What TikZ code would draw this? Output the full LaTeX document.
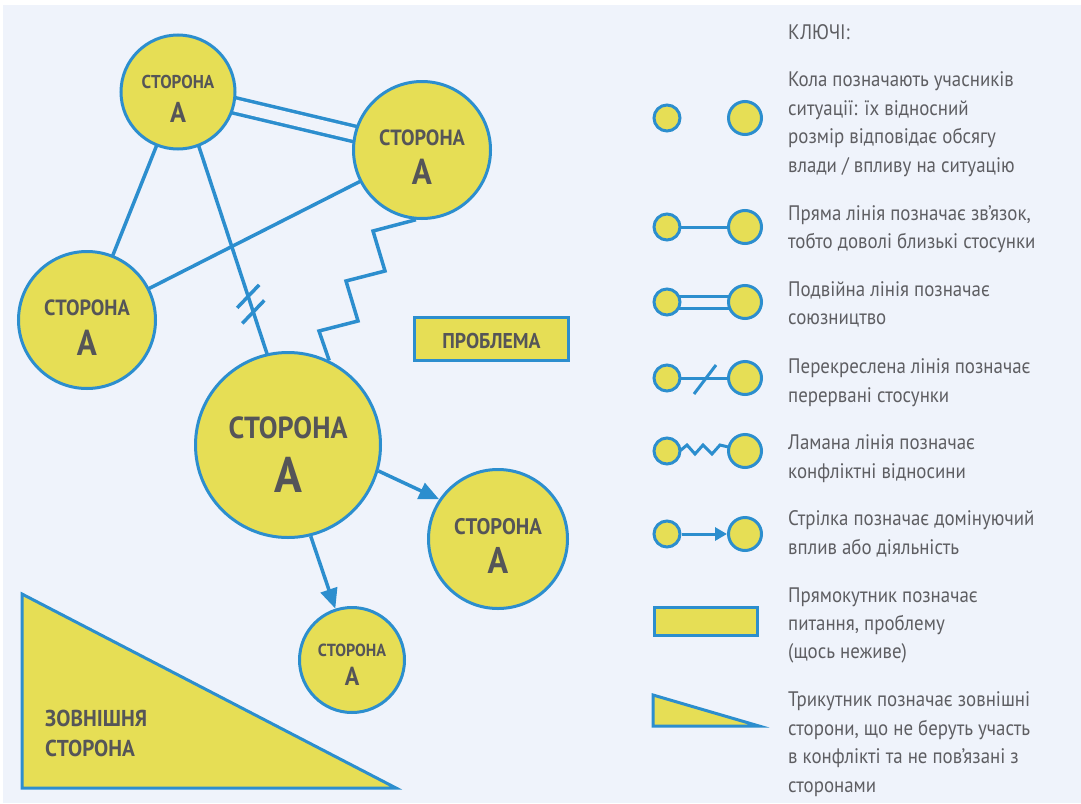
\documentclass[tikz,border=0pt]{standalone}
\usepackage{fontspec}
\setmainfont{PT Sans}
\newfontfamily\labfont{PT Sans}[FakeStretch=0.92]
\newfontfamily\legfont{PT Sans}[FakeStretch=0.9]
\usetikzlibrary{arrows.meta,calc}
\definecolor{bgc}{RGB}{239,243,251}
\definecolor{yel}{RGB}{230,222,85}
\definecolor{blu}{RGB}{44,142,206}
\definecolor{lab}{RGB}{85,85,88}
\definecolor{txt}{RGB}{94,94,98}
\pgfdeclarelayer{back}
\pgfdeclarelayer{lines}
\pgfsetlayers{back,lines,main}
\begin{document}
\begin{tikzpicture}[x=1pt,y=-1pt,
  party/.style={circle,draw=blu,fill=yel,line width=3pt,inner sep=0pt,minimum size=#1},
  conn/.style={draw=blu,line width=3.5pt},
  kconn/.style={draw=blu,line width=3pt},
  lbl/.style={text=lab,inner sep=0pt,anchor=base,font=\labfont\bfseries\fontsize{#1}{#1}\selectfont},
  leg/.style={text=txt,inner sep=0pt,anchor=base west,font=\legfont\fontsize{21}{21}\selectfont},
  ksmall/.style={party=26pt},
  kbig/.style={party=33pt}]
\useasboundingbox (0,0) rectangle (1081,803);
\begin{pgfonlayer}{back}
\fill[white] (0,0) rectangle (1081,803);
\fill[bgc] (3,5) rectangle (1081,803);
\end{pgfonlayer}

% ---------- main diagram ----------
\node[party=114pt] (c1) at (178,92) {};
\node[party=137pt] (c2) at (422,150) {};
\node[party=137pt] (c3) at (87,320) {};
\node[party=185pt] (big) at (288,445) {};
\node[party=139pt] (right) at (498,539) {};
\node[party=105pt] (small) at (352,660) {};

\node[lbl=18.6] (t1a) at (178,88) {СТОРОНА};
\node[lbl=28.6] (t1b) at (178,122) {А};
\node[lbl=22] (t2a) at (422,145) {СТОРОНА};
\node[lbl=36] (t2b) at (422,184) {А};
\node[lbl=22] (t3a) at (87,315) {СТОРОНА};
\node[lbl=36] (t3b) at (87,355) {А};
\node[lbl=30.5] (t4a) at (288,438) {СТОРОНА};
\node[lbl=50] (t4b) at (288,492) {А};
\node[lbl=22.5] (t5a) at (498,534) {СТОРОНА};
\node[lbl=37] (t5b) at (498,573) {А};
\node[lbl=17.5] (t6a) at (352,656) {СТОРОНА};
\node[lbl=26] (t6b) at (352,685) {А};

\node[draw=blu,fill=yel,line width=3pt,minimum width=154pt,minimum height=43pt,inner sep=0pt] (prob) at (491.5,339) {};
\node[lbl=21.4] (probt) at (491.5,348) {ПРОБЛЕМА};

\draw[draw=blu,fill=yel,line width=3pt,line join=miter] (22,594) -- (22,788) -- (396,788) -- cycle;
\node[lbl=23,anchor=base west] (ext1) at (45,726) {ЗОВНІШНЯ};
\node[lbl=23,anchor=base west] (ext2) at (45,756) {СТОРОНА};

\begin{pgfonlayer}{lines}
\draw[conn] (c1.center) -- (c3.center);
\draw[conn] (c2.center) -- (c3.center);
\draw[conn] ([xshift=3pt]c1.center) -- ([xshift=9pt]big.center);
\draw[conn,double=bgc,double distance=12pt] (c1.center) -- (c2.center);
\draw[conn,line join=miter] (c2.265) -- (373,231) -- (385,271) -- (346,281) -- (358,321) -- (319,331) -- (big.64);
\end{pgfonlayer}
\coordinate (m1) at ($([xshift=3pt]c1.center)!0.579!([xshift=9pt]big.center)$);
\coordinate (m2) at ($([xshift=3pt]c1.center)!0.623!([xshift=9pt]big.center)$);
\draw[conn] ($(m1)+(-11,11.5)$) -- ($(m1)+(11,-11.5)$);
\draw[conn] ($(m2)+(-11,11.5)$) -- ($(m2)+(11,-11.5)$);

\draw[conn,-{Triangle[length=20pt,width=17pt]}] (big.-16.5) -- (right.146);
\draw[conn,-{Triangle[length=20pt,width=17pt]}] (big.-76) -- (small.108);

% ---------- legend ----------
\node[leg] (khead) at (788,39) {КЛЮЧІ:};

\node[ksmall] (k1a) at (667,118) {};
\node[kbig] (k1b) at (745,118) {};
\node[leg] at (788,86) {Кола позначають учасників};
\node[leg] at (788,115) {ситуації: їх відносний};
\node[leg] at (788,143) {розмір відповідає обсягу};
\node[leg] at (788,172) {влади / впливу на ситуацію};

\node[ksmall] (k2a) at (667,227) {};
\node[kbig] (k2b) at (745,227) {};
\begin{pgfonlayer}{lines}
\draw[kconn] (k2a.center) -- (k2b.center);
\end{pgfonlayer}
\node[leg] at (788,220) {Пряма лінія позначає зв’язок,};
\node[leg] at (788,248) {тобто доволі близькі стосунки};

\node[ksmall] (k3a) at (667,302) {};
\node[kbig] (k3b) at (745,302) {};
\begin{pgfonlayer}{lines}
\draw[kconn,double=bgc,double distance=9pt] (k3a.center) -- (k3b.center);
\end{pgfonlayer}
\node[leg] at (788,296) {Подвійна лінія позначає};
\node[leg] at (788,324) {союзництво};

\node[ksmall] (k4a) at (667,378) {};
\node[kbig] (k4b) at (745,378) {};
\begin{pgfonlayer}{lines}
\draw[kconn] (k4a.center) -- (k4b.center);
\end{pgfonlayer}
\draw[kconn] (694,394) -- (716,365);
\node[leg] at (788,373) {Перекреслена лінія позначає};
\node[leg] at (788,402) {перервані стосунки};

\node[ksmall] (k5a) at (667,451) {};
\node[kbig] (k5b) at (745,451) {};
\begin{pgfonlayer}{lines}
\draw[kconn,line join=miter] (k5a.center) -- (681,450) -- (687,445) -- (695,454) -- (703,445) -- (712,454) -- (720,445) -- (k5b.center);
\end{pgfonlayer}
\node[leg] at (788,449) {Ламана лінія позначає};
\node[leg] at (788,478) {конфліктні відносини};

\node[ksmall] (k6a) at (667,534) {};
\node[kbig] (k6b) at (745,534) {};
\draw[kconn,-{Triangle[length=12pt,width=13pt]}] (k6a) -- (k6b);
\node[leg] at (788,525) {Стрілка позначає домінуючий};
\node[leg] at (788,554) {вплив або діяльність};

\node[draw=blu,fill=yel,line width=3pt,minimum width=103pt,minimum height=28pt,inner sep=0pt] (k7) at (706,621.5) {};
\node[leg] at (788,602) {Прямокутник позначає};
\node[leg] at (788,630) {питання, проблему};
\node[leg] at (788,658) {(щось неживе)};

\draw[draw=blu,fill=yel,line width=3pt,line join=miter] (653,695) -- (653,726) -- (759,726) -- cycle;
\node[leg] at (788,706) {Трикутник позначає зовнішні};
\node[leg] at (788,735) {сторони, що не беруть участь};
\node[leg] at (788,763) {в конфлікті та не пов’язані з};
\node[leg] at (788,792) {сторонами};
\end{tikzpicture}
\end{document}
